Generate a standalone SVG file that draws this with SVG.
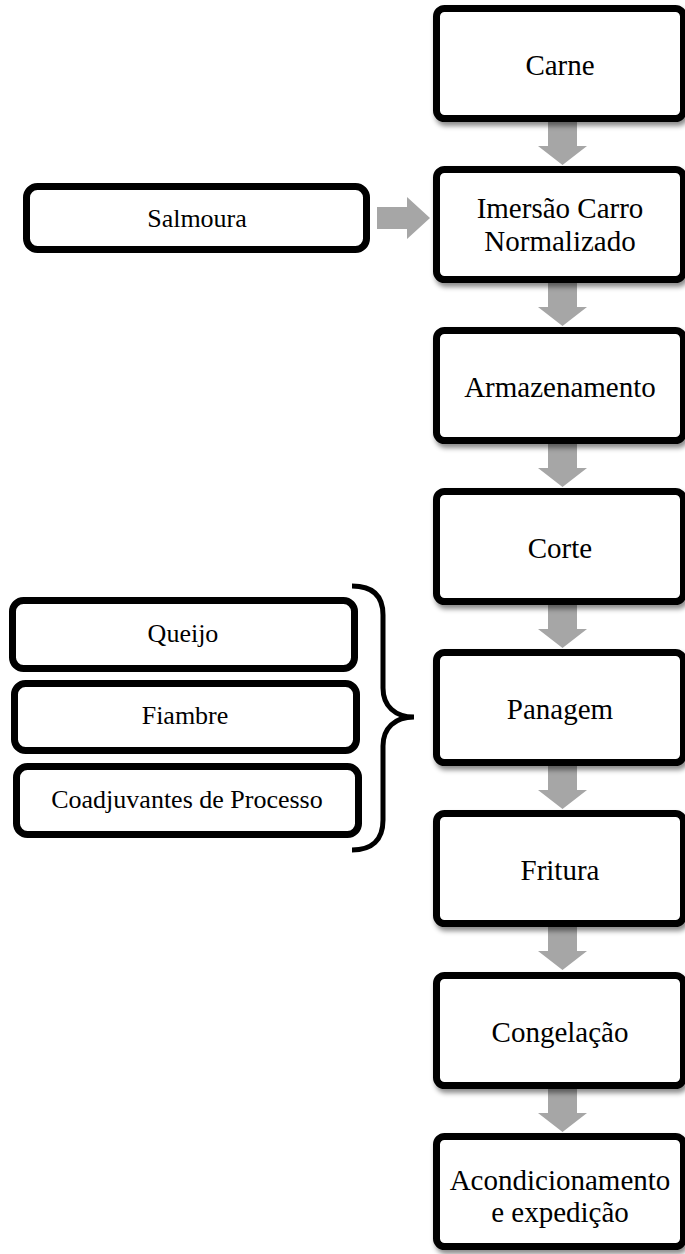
<svg xmlns="http://www.w3.org/2000/svg" width="685" height="1254" viewBox="0 0 685 1254">
<defs>
<filter id="sh" x="-10%" y="-10%" width="130%" height="140%">
<feDropShadow dx="2" dy="4" stdDeviation="2.5" flood-color="#000" flood-opacity="0.45"/>
</filter>
<style>
.box{fill:#fff;stroke:#000;stroke-width:7}
.main{filter:url(#sh)}
.t{font-family:"Liberation Serif","Times New Roman",serif;font-size:29px;fill:#000;text-anchor:middle}
.ts{font-family:"Liberation Serif","Times New Roman",serif;font-size:26px;fill:#000;text-anchor:middle}
.arr{fill:#a6a6a6}
</style>
</defs>
<rect width="685" height="1254" fill="#fff"/>
<g id="connectors">
<polygon class="arr" points="548,122 577,122 577,146 587,146 562.5,165 538,146 548,146"/>
<polygon class="arr" points="548,283 577,283 577,307 587,307 562.5,326 538,307 548,307"/>
<polygon class="arr" points="548,444 577,444 577,468 587,468 562.5,487 538,468 548,468"/>
<polygon class="arr" points="548,605 577,605 577,629 587,629 562.5,648 538,629 548,629"/>
<polygon class="arr" points="548,766 577,766 577,790 587,790 562.5,809 538,790 548,790"/>
<polygon class="arr" points="548,927 577,927 577,951 587,951 562.5,970 538,951 548,951"/>
<polygon class="arr" points="548,1089 577,1089 577,1113 587,1113 562.5,1132 538,1113 548,1113"/>
<polygon class="arr" points="377,207 407,207 407,197 430,218 407,239 407,229 377,229"/>
<path d="M352 586 C372 586 383 595 383 615 L383 688 C383 706 395 717 414 717 C395 717 383 728 383 746 L383 820 C383 840 372 850 352 850" fill="none" stroke="#000" stroke-width="5"/>
</g>
<g id="carne"><rect class="box main" x="436.5" y="8.5" width="247" height="110" rx="8"/><text class="t" x="560" y="75">Carne</text></g>
<g id="imersao"><rect class="box main" x="436.5" y="169.5" width="247" height="110" rx="8"/><text class="t" x="560" y="218">Imersão Carro</text><text class="t" x="560" y="251">Normalizado</text></g>
<g id="armazenamento"><rect class="box main" x="436.5" y="330.5" width="247" height="110" rx="8"/><text class="t" x="560" y="397">Armazenamento</text></g>
<g id="corte"><rect class="box main" x="436.5" y="491.5" width="247" height="110" rx="8"/><text class="t" x="560" y="558">Corte</text></g>
<g id="panagem"><rect class="box main" x="436.5" y="652.5" width="247" height="110" rx="8"/><text class="t" x="560" y="719">Panagem</text></g>
<g id="fritura"><rect class="box main" x="436.5" y="813.5" width="247" height="110" rx="8"/><text class="t" x="560" y="880">Fritura</text></g>
<g id="congelacao"><rect class="box main" x="436.5" y="975.5" width="247" height="110" rx="8"/><text class="t" x="560" y="1042">Congelação</text></g>
<g id="acondicionamento"><rect class="box main" x="436.5" y="1136.5" width="247" height="110" rx="8"/><text class="t" x="560" y="1190">Acondicionamento</text><text class="t" x="560" y="1222">e expedição</text></g>
<g id="salmoura"><rect class="box" x="26.5" y="186.5" width="340" height="63" rx="11"/><text class="ts" x="197" y="227">Salmoura</text></g>
<g id="queijo"><rect class="box" x="12.5" y="600.5" width="342" height="68" rx="11"/><text class="ts" x="183" y="642">Queijo</text></g>
<g id="fiambre"><rect class="box" x="14.5" y="683.5" width="342" height="67" rx="11"/><text class="ts" x="185" y="724">Fiambre</text></g>
<g id="coadjuvantes"><rect class="box" x="16.5" y="766.5" width="342" height="68" rx="11"/><text class="ts" x="187" y="808">Coadjuvantes de Processo</text></g>
</svg>
